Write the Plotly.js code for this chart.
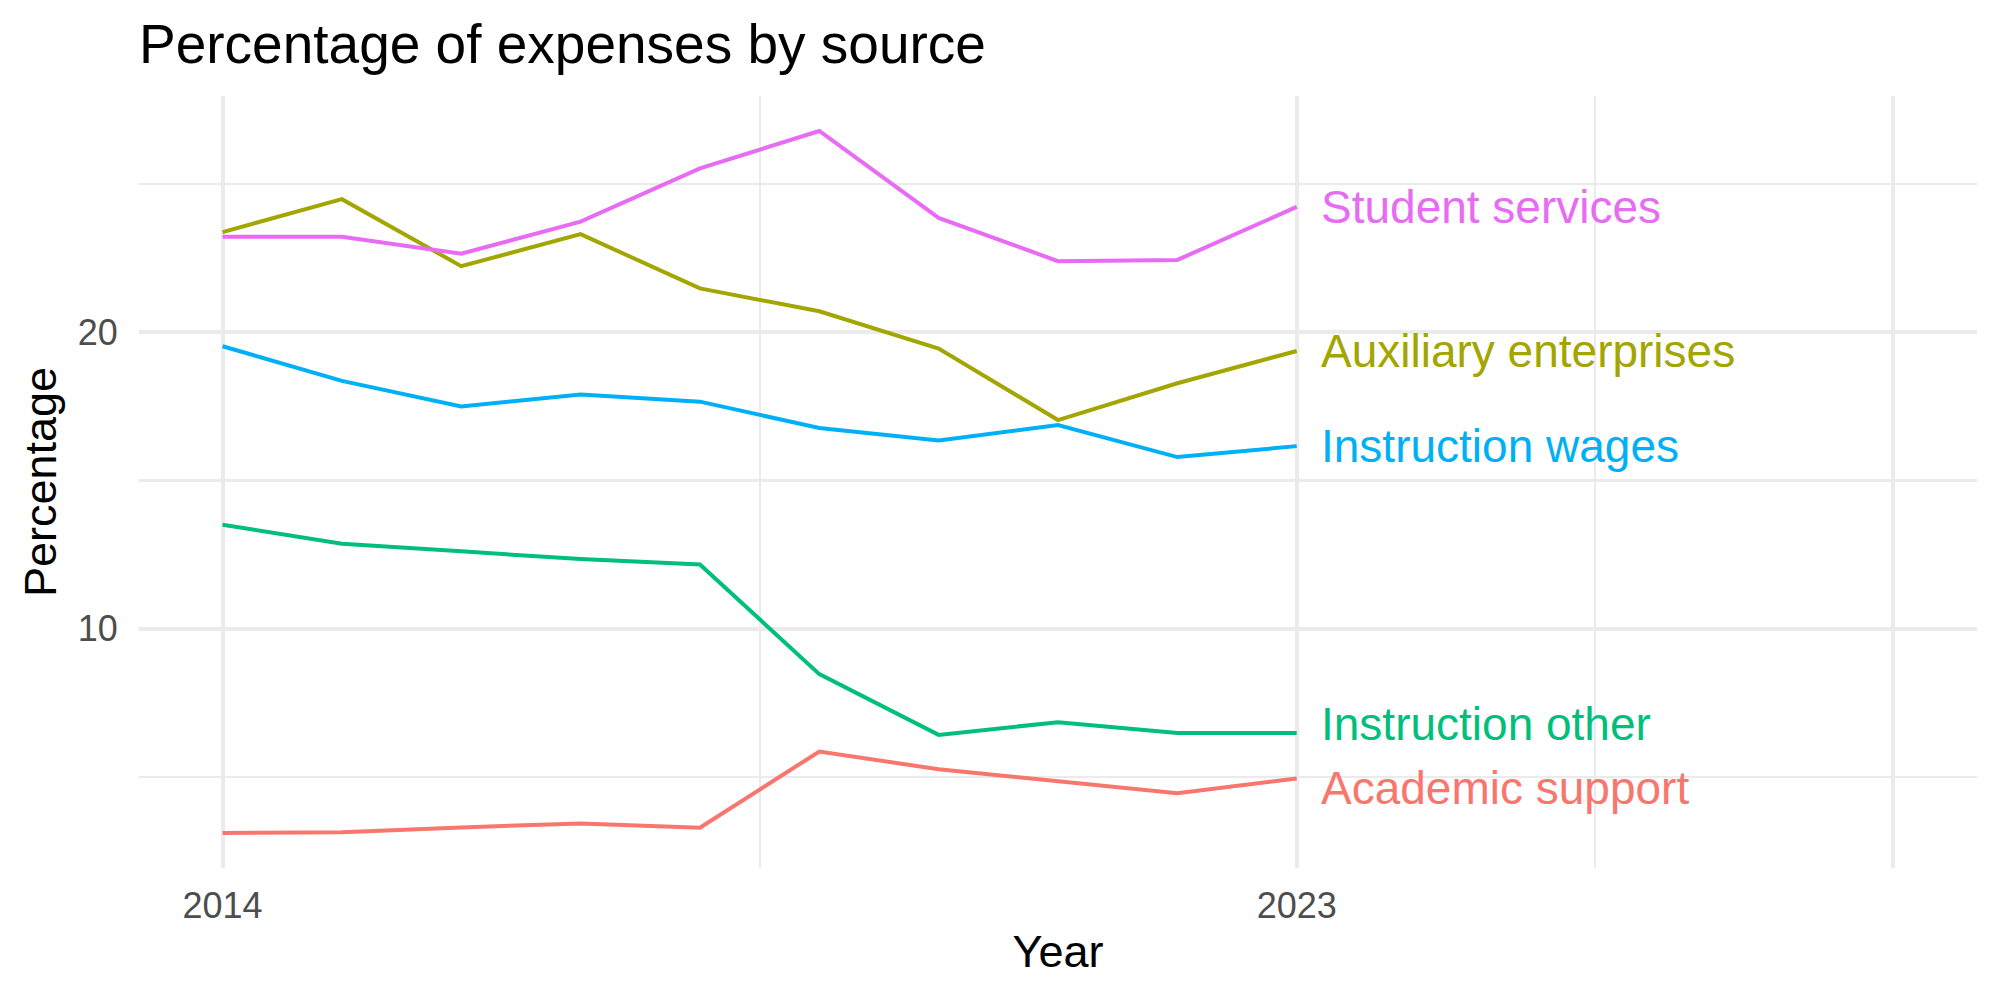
<!DOCTYPE html>
<html>
<head>
<meta charset="utf-8">
<script src="https://cdn.plot.ly/plotly-3.0.1.min.js"></script>
<style>html,body{margin:0;padding:0;background:#fff;}#chart{width:2000px;height:1000px;}</style>
</head>
<body>
<div id="chart"></div>
<script>
const years = [2014, 2015, 2016, 2017, 2018, 2019, 2020, 2021, 2022, 2023];
const academicSupport = [3.11, 3.14, 3.30, 3.43, 3.29, 5.86, 5.26, 4.86, 4.45, 4.95];
const auxiliaryEnterprises = [23.38, 24.49, 22.23, 23.31, 21.48, 20.71, 19.45, 17.04, 18.28, 19.37];
const instructionOther = [13.51, 12.87, 12.61, 12.35, 12.17, 8.47, 6.42, 6.85, 6.48, 6.48];
const instructionWages = [19.53, 18.36, 17.50, 17.90, 17.66, 16.77, 16.35, 16.87, 15.79, 16.16];
const studentServices = [23.22, 23.22, 22.65, 23.73, 25.53, 26.79, 23.86, 22.40, 22.44, 24.23];

const seriesNames = ["Academic support", "Auxiliary enterprises", "Instruction other", "Instruction wages", "Student services"];
const seriesValues = [academicSupport, auxiliaryEnterprises, instructionOther, instructionWages, studentServices];
const seriesColors = ["#F8766D", "#A3A500", "#00BF7D", "#00B0F6", "#E76BF3"];
const labelShift = [-10, 0, 9, 0, 0];

const xTickVals = [2014, 2023, 2028];
const xTickText = ["2014", "2023", ""];
const xMinorVals = [2018.5, 2025.5];
const yTickVals = [10, 20];
const yMinorVals = [5, 15, 25];

const FONT = '"Liberation Sans", Arial, Helvetica, sans-serif';

const traces = seriesNames.map((name, i) => ({
  type: 'scatter',
  mode: 'lines',
  name: name,
  x: years,
  y: seriesValues[i],
  line: {color: seriesColors[i], width: 4},
  hoverinfo: 'x+y+name'
}));

const annotations = seriesNames.map((name, i) => ({
  xref: 'x', yref: 'y',
  x: years[years.length - 1],
  y: seriesValues[i][seriesValues[i].length - 1],
  text: name,
  showarrow: false,
  xanchor: 'left',
  yanchor: 'middle',
  xshift: 22,
  yshift: labelShift[i],
  font: {family: FONT, size: 46, color: seriesColors[i]}
}));

const layout = {
  width: 2000,
  height: 1000,
  paper_bgcolor: '#fff',
  plot_bgcolor: '#fff',
  showlegend: false,
  margin: {l: 139, r: 23, t: 96, b: 132},
  title: {
    text: 'Percentage of expenses by source',
    font: {family: FONT, size: 55, color: '#000'},
    x: 139 / 2000, xref: 'container', xanchor: 'left',
    y: 1 - 44 / 1000, yref: 'container', yanchor: 'middle'
  },
  xaxis: {
    range: [2013.3, 2028.7],
    tickmode: 'array',
    tickvals: xTickVals,
    ticktext: xTickText,
    ticks: 'outside', ticklen: 6, tickcolor: 'rgba(0,0,0,0)',
    tickfont: {family: FONT, size: 36, color: '#4D4D4D'},
    showgrid: true, gridcolor: '#EBEBEB', gridwidth: 4,
    minor: {tickmode: 'array', tickvals: xMinorVals, showgrid: true, gridcolor: '#EBEBEB', gridwidth: 2.2},
    zeroline: false, showline: false,
    title: {text: 'Year', font: {family: FONT, size: 45, color: '#000'}, standoff: 10}
  },
  yaxis: {
    range: [1.93, 27.97],
    tickmode: 'array',
    tickvals: yTickVals,
    ticks: 'outside', ticklen: 13, tickcolor: 'rgba(0,0,0,0)',
    tickfont: {family: FONT, size: 36, color: '#4D4D4D'},
    showgrid: true, gridcolor: '#EBEBEB', gridwidth: 4,
    minor: {tickmode: 'array', tickvals: yMinorVals, showgrid: true, gridcolor: '#EBEBEB', gridwidth: 2.2},
    zeroline: false, showline: false,
    title: {text: 'Percentage', font: {family: FONT, size: 45, color: '#000'}, standoff: 7}
  },
  annotations: annotations
};

Plotly.newPlot('chart', traces, layout, {displayModeBar: false, staticPlot: true});
</script>
</body>
</html>
